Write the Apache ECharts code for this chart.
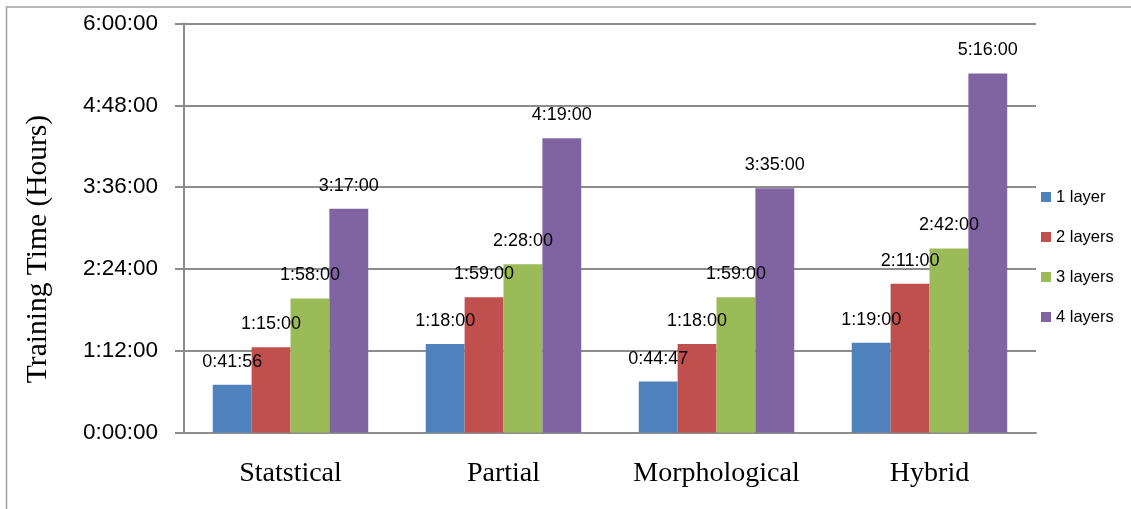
<!DOCTYPE html>
<html>
<head>
<meta charset="utf-8">
<script src="https://cdn.jsdelivr.net/npm/echarts@6/dist/echarts.min.js"></script>
<style>
  html, body { margin: 0; padding: 0; background: #fff; }
  #chart { width: 1131px; height: 509px; }
</style>
</head>
<body>
<div id="chart"></div>
<script>
// Training time per feature set, in seconds, for 1–4 hidden layers
const categories = ['Statstical', 'Partial', 'Morphological', 'Hybrid'];
const seriesNames = ['1 layer', '2 layers', '3 layers', '4 layers'];
const layer1 = [2516, 4680, 2687, 4740];    // 0:41:56, 1:18:00, 0:44:47, 1:19:00
const layer2 = [4500, 7140, 4680, 7860];    // 1:15:00, 1:59:00, 1:18:00, 2:11:00
const layer3 = [7080, 8880, 7140, 9720];    // 1:58:00, 2:28:00, 1:59:00, 2:42:00
const layer4 = [11820, 15540, 12900, 18960]; // 3:17:00, 4:19:00, 3:35:00, 5:16:00
const colors = ['#4F81BD', '#C0504D', '#9BBB59', '#8064A2'];
const axisMax = 21600;   // 6:00:00
const axisStep = 4320;   // 1:12:00

function hms(sec) {
  const h = Math.floor(sec / 3600);
  const m = Math.floor((sec % 3600) / 60);
  const s = Math.round(sec % 60);
  return h + ':' + String(m).padStart(2, '0') + ':' + String(s).padStart(2, '0');
}

const values = [layer1, layer2, layer3, layer4];
const chart = echarts.init(document.getElementById('chart'));

chart.setOption({
  animation: false,
  color: colors,
  graphic: [{
    type: 'rect',
    shape: { x: 6.5, y: 7, width: 1140, height: 520 },
    style: { fill: 'none', stroke: '#A0A0A0', lineWidth: 1.5 },
    silent: true
  }],
  grid: { left: 184, right: 95, top: 23.5, bottom: 76.5 },
  legend: {
    orient: 'vertical',
    left: 1036,
    top: 183,
    itemWidth: 10,
    itemHeight: 10,
    itemGap: 22,
    icon: 'rect',
    textStyle: { fontFamily: 'Liberation Sans', fontSize: 16.5, color: '#000', lineHeight: 18 },
    data: seriesNames
  },
  xAxis: {
    type: 'category',
    data: categories,
    axisLine: { lineStyle: { color: '#8C8C8C', width: 2 } },
    axisTick: { show: false },
    axisLabel: { interval: 0, margin: 27, fontFamily: 'Liberation Serif', fontSize: 28, color: '#000' }
  },
  yAxis: {
    type: 'value',
    min: 0,
    max: axisMax,
    interval: axisStep,
    name: 'Training Time (Hours)',
    nameLocation: 'middle',
    nameGap: 131,
    nameTextStyle: { fontFamily: 'Liberation Serif', fontSize: 29.5, color: '#000', padding: [0, 42, 0, 0] },
    axisLine: { show: true, lineStyle: { color: '#8C8C8C', width: 2 } },
    axisTick: { show: true, length: 9, lineStyle: { color: '#8C8C8C', width: 2 } },
    splitLine: { lineStyle: { color: '#8C8C8C', width: 2 } },
    axisLabel: { margin: 26, fontFamily: 'Liberation Sans', fontSize: 22.5, color: '#000', formatter: hms }
  },
  series: seriesNames.map((name, i) => ({
    name: name,
    type: 'bar',
    data: values[i],
    barGap: '0%',
    barCategoryGap: '27%',
    label: {
      show: true,
      position: 'top',
      distance: 14,
      fontFamily: 'Liberation Sans',
      fontSize: 18,
      color: '#000',
      formatter: p => hms(p.value)
    }
  }))
});
</script>
</body>
</html>
